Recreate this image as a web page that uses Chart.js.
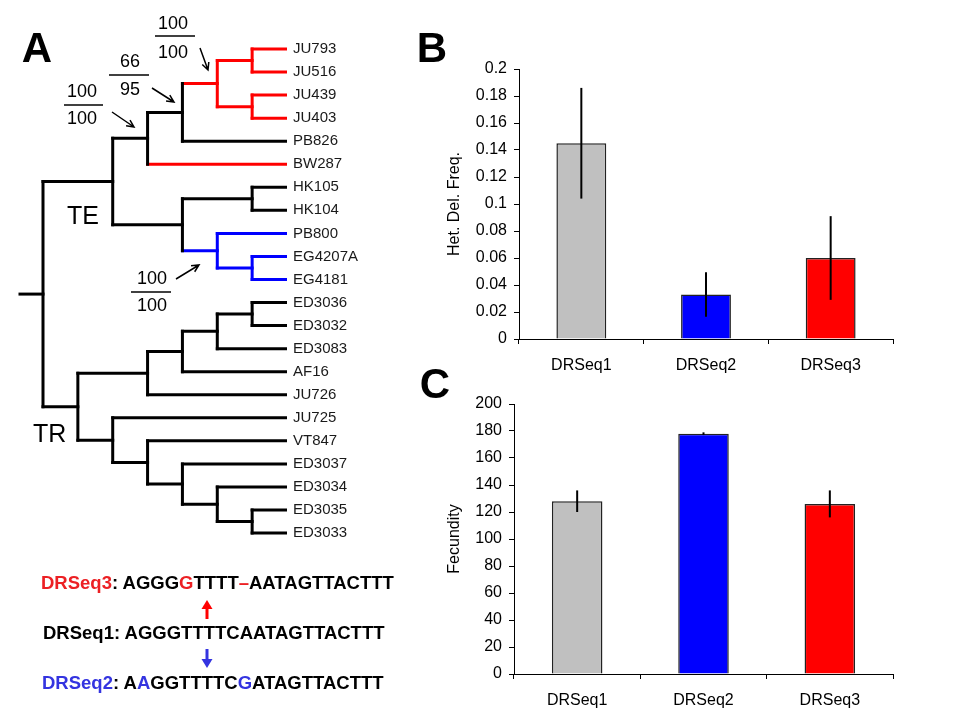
<!DOCTYPE html>
<html>
<head>
<meta charset="utf-8">
<script src="https://cdn.jsdelivr.net/npm/chart.js@4.4.1/dist/chart.umd.min.js"></script>
<style>
  html, body { margin: 0; padding: 0; background: #fff; }
  #fig { position: relative; width: 960px; height: 720px; overflow: hidden;
         font-family: "Liberation Sans", Arial, sans-serif; color: #000; }
  canvas { position: absolute; }
  .t { position: absolute; white-space: nowrap; line-height: 1; transform: translate(-50%, -50%); }
  .panel { font-weight: bold; font-size: 42px; }
  .boot { font-size: 18px; }
  .clade { font-size: 25px; transform: translateY(-50%); }
  .seq { position: absolute; white-space: nowrap; line-height: 1; transform: translateY(-50%);
         font-weight: bold; font-size: 18.5px; }
  .r { color: #ec2024; }
  .b { color: #3434e0; }
</style>
</head>
<body>
<div id="fig">
  <canvas id="tree" width="400" height="720" style="left:0;top:0"></canvas>
  <canvas id="chartB" width="530" height="345" style="left:400px;top:40px"></canvas>
  <canvas id="chartC" width="530" height="340" style="left:400px;top:380px"></canvas>

  <div class="t panel" style="left:37px;top:48px">A</div>
  <div class="t panel" style="left:432px;top:48px">B</div>
  <div class="t panel" style="left:435px;top:384px">C</div>

  <div class="t clade" style="left:67px;top:215px">TE</div>
  <div class="t clade" style="left:33px;top:433px">TR</div>

  <div class="seq" style="left:41px;top:583px"><span class="r">DRSeq3</span>: AGGG<span class="r">G</span>TTTT<span class="r">–</span>AATAGTTACTTT</div>
  <div class="seq" style="left:43px;top:633px">DRSeq1: AGGGTTTTCAATAGTTACTTT</div>
  <div class="seq" style="left:42px;top:683px"><span class="b">DRSeq2</span>: A<span class="b">A</span>GGTTTTC<span class="b">G</span>ATAGTTACTTT</div>
</div>
<script>
// ---- data ----
const strains = ["JU793", "JU516", "JU439", "JU403", "PB826", "BW287", "HK105", "HK104",
  "PB800", "EG4207A", "EG4181", "ED3036", "ED3032", "ED3083", "AF16", "JU726",
  "JU725", "VT847", "ED3037", "ED3034", "ED3035", "ED3033"];
const treeTopology = "((((((JU793,JU516),(JU439,JU403)),PB826),BW287),((HK105,HK104),(PB800,(EG4207A,EG4181)))),(((((ED3036,ED3032),ED3083),AF16),JU726),(JU725,(VT847,(ED3037,(ED3034,(ED3035,ED3033)))))))";
const redClades = [["JU793", "JU516", "JU439", "JU403"], ["BW287"]];
const blueClades = [["PB800", "EG4207A", "EG4181"]];
const bootstrap = [["100", "100"], ["66", "95"], ["100", "100"], ["100", "100"]];

const categories = ["DRSeq1", "DRSeq2", "DRSeq3"];
const delFreq = [0.145, 0.033, 0.060];
const delFreqErr = [0.041, 0.0165, 0.031];
const fecundity = [128, 178, 126];
const fecundityErr = [8, 1, 10];

// ---- layout ----
const barColors = ["#c0c0c0", "#0000ff", "#ff0000"];
const LEAF_TOP = 49, LEAF_STEP = 23.05, ROOT_X = 43, TIP_X = 287, STUB = 0.66;
// bootstrap label centres + fraction bar + arrow [x1,y1,x2,y2]
const bootPos = [
  { x: 173, y1: 23, y2: 52, bar: [155, 195, 36], arrow: [200, 48, 208, 70] },
  { x: 130, y1: 61, y2: 89, bar: [109, 149, 75], arrow: [152, 88, 174, 102] },
  { x: 82, y1: 91, y2: 118, bar: [64, 103, 105], arrow: [112, 112, 134, 127] },
  { x: 152, y1: 278, y2: 305, bar: [131, 171, 292], arrow: [176, 279, 199, 265] },
];

Chart.defaults.font.family = '"Liberation Sans", Arial, sans-serif';
Chart.defaults.font.size = 16;
Chart.defaults.color = "#000";

// ---- tree ----
function parseNewick(s) {
  let i = 0;
  function node() {
    if (s[i] === "(") {
      i++;
      const kids = [node()];
      while (s[i] === ",") { i++; kids.push(node()); }
      i++;
      return { kids };
    }
    let name = "";
    while (i < s.length && !",()".includes(s[i])) name += s[i++];
    return { name };
  }
  return node();
}

function place(n) {
  if (!n.kids) { n.y = strains.indexOf(n.name); n.h = 0; n.tips = [n.name]; return; }
  n.kids.forEach(place);
  n.h = 1 + Math.max(...n.kids.map(k => k.h));
  n.y = (n.kids[0].y + n.kids[n.kids.length - 1].y) / 2;
  n.tips = n.kids.flatMap(k => k.tips);
}

const sameSet = (a, b) => a.length === b.length && a.every(t => b.includes(t));
function cladeColor(n) {
  if (redClades.some(c => sameSet(c, n.tips))) return "#ff0000";
  if (blueClades.some(c => sameSet(c, n.tips))) return "#0000ff";
  return null;
}

const root = parseNewick(treeTopology);
place(root);
const depth = root.h;
const segs = [];
(function walk(n, col) {
  n.x = depth - n.h;
  if (!n.kids) return;
  n.kids.forEach(k => { k.x = depth - k.h; });
  segs.push({ pts: [{ x: n.x, y: n.kids[0].y }, { x: n.x, y: n.kids[n.kids.length - 1].y }], color: col });
  n.kids.forEach(k => {
    const kc = cladeColor(k) || col;
    segs.push({ pts: [{ x: n.x, y: k.y }, { x: k.x, y: k.y }], color: kc });
    walk(k, kc);
  });
})(root, "#000");
segs.push({ pts: [{ x: -STUB, y: root.y }, { x: 0, y: root.y }], color: "#000" });

function arrow(ctx, x1, y1, x2, y2) {
  const a = Math.atan2(y2 - y1, x2 - x1), L = 8, w = 0.45;
  ctx.beginPath();
  ctx.moveTo(x1, y1); ctx.lineTo(x2, y2);
  ctx.moveTo(x2 - L * Math.cos(a - w), y2 - L * Math.sin(a - w));
  ctx.lineTo(x2, y2);
  ctx.lineTo(x2 - L * Math.cos(a + w), y2 - L * Math.sin(a + w));
  ctx.stroke();
}
function solidArrow(ctx, x, yFrom, yTo, color) {
  const dir = Math.sign(yTo - yFrom);
  ctx.strokeStyle = color; ctx.fillStyle = color; ctx.lineWidth = 3;
  ctx.beginPath(); ctx.moveTo(x, yFrom); ctx.lineTo(x, yTo - dir * 6); ctx.stroke();
  ctx.beginPath(); ctx.moveTo(x, yTo); ctx.lineTo(x - 5.5, yTo - dir * 9); ctx.lineTo(x + 5.5, yTo - dir * 9);
  ctx.closePath(); ctx.fill();
}

const annotations = {
  id: "annotations",
  afterDraw(chart) {
    const ctx = chart.ctx;
    ctx.save();
    ctx.strokeStyle = "#000"; ctx.lineWidth = 1.5;
    bootPos.forEach(p => {
      ctx.beginPath(); ctx.moveTo(p.bar[0], p.bar[2]); ctx.lineTo(p.bar[1], p.bar[2]); ctx.stroke();
      arrow(ctx, ...p.arrow);
    });
    solidArrow(ctx, 207, 619, 600, "#ff0000");
    solidArrow(ctx, 207, 649, 668, "#3434e0");
    ctx.restore();
  }
};

const unit = (TIP_X - ROOT_X) / depth;
new Chart(document.getElementById("tree"), {
  type: "scatter",
  data: {
    datasets: segs.map(s => ({
      data: s.pts, borderColor: s.color, borderWidth: 3, showLine: true,
      pointRadius: 0, borderCapStyle: "square",
    })),
  },
  options: {
    responsive: false, animation: false,
    layout: { padding: 0 },
    plugins: { legend: { display: false }, tooltip: { enabled: false } },
    scales: {
      x: { type: "linear", display: false, min: -ROOT_X / unit, max: depth },
      y: {
        type: "linear", position: "right", reverse: true,
        min: -LEAF_TOP / LEAF_STEP, max: (720 - LEAF_TOP) / LEAF_STEP,
        afterBuildTicks: s => { s.ticks = strains.map((_, i) => ({ value: i })); },
        afterFit: s => { s.width = 400 - TIP_X; s.paddingTop = 0; s.paddingBottom = 0; },
        grid: { display: false, drawTicks: false },
        border: { display: false },
        ticks: { autoSkip: false, padding: 6, font: { size: 15 }, color: "#1a1a1a",
                 callback: v => strains[v] },
      },
    },
  },
  plugins: [annotations],
});

bootstrap.forEach(([top, bottom], i) => {
  const p = bootPos[i], fig = document.getElementById("fig");
  [[top, p.y1], [bottom, p.y2]].forEach(([txt, y]) => {
    const d = document.createElement("div");
    d.className = "t boot";
    d.style.left = p.x + "px"; d.style.top = y + "px";
    d.textContent = txt;
    fig.appendChild(d);
  });
});

// ---- bar charts ----
const errorBars = {
  id: "errorBars",
  afterDatasetsDraw(chart, args, opts) {
    const { ctx } = chart, y = chart.scales.y;
    const vals = chart.data.datasets[0].data;
    ctx.save();
    ctx.strokeStyle = "#000"; ctx.lineWidth = 2;
    chart.getDatasetMeta(0).data.forEach((bar, i) => {
      ctx.beginPath();
      ctx.moveTo(bar.x, y.getPixelForValue(vals[i] + opts.err[i]));
      ctx.lineTo(bar.x, y.getPixelForValue(vals[i] - opts.err[i]));
      ctx.stroke();
    });
    ctx.restore();
  }
};

function barChart(id, values, errs, yMax, step, title, padTop, axisW) {
  return new Chart(document.getElementById(id), {
    type: "bar",
    data: {
      labels: categories,
      datasets: [{
        data: values, backgroundColor: barColors, borderColor: "#222", borderWidth: 1.5,
        categoryPercentage: 1, barPercentage: 0.4,
      }],
    },
    options: {
      responsive: false, animation: false,
      layout: { padding: { top: padTop, right: 37, left: 0, bottom: 0 } },
      plugins: { legend: { display: false }, tooltip: { enabled: false }, errorBars: { err: errs } },
      scales: {
        x: {
          grid: { offset: true, drawOnChartArea: false, drawTicks: true, tickLength: 5, tickColor: "#000" },
          border: { color: "#000", width: 1 },
          ticks: { padding: 12 },
          afterFit: s => { s.height = 46; },
        },
        y: {
          min: 0, max: yMax,
          grid: { drawOnChartArea: false, drawTicks: true, tickLength: 5, tickColor: "#000" },
          border: { color: "#000", width: 1 },
          ticks: { stepSize: step, padding: 7, callback: v => String(+v.toFixed(4)) },
          title: { display: true, text: title, padding: { top: 45, bottom: 0 } },
          afterFit: s => { s.width = axisW; },
        },
      },
    },
    plugins: [errorBars],
  });
}

barChart("chartB", delFreq, delFreqErr, 0.2, 0.02, "Het. Del. Freq.", 29, 119);
barChart("chartC", fecundity, fecundityErr, 200, 20, "Fecundity", 24, 114);
</script>
</body>
</html>
